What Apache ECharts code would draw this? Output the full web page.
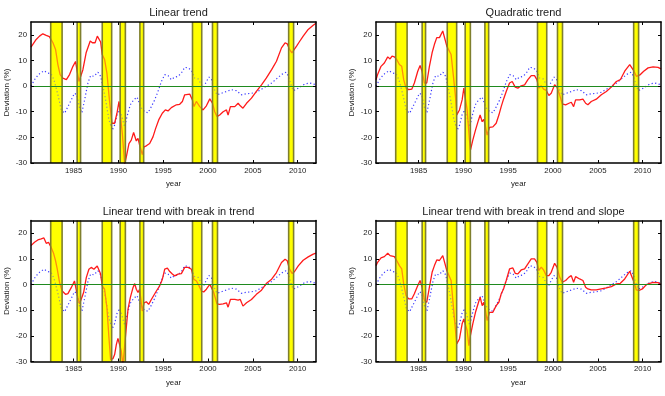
<!DOCTYPE html>
<html>
<head>
<meta charset="utf-8">
<script src="https://cdn.jsdelivr.net/npm/echarts@6/dist/echarts.min.js"></script>
<style>
  html, body { margin: 0; padding: 0; background: #fff; }
  #main { width: 665px; height: 396px; }
</style>
</head>
<body>
<div id="main"></div>
<script>
// panel titles
const panelTitles = ['Linear trend', 'Quadratic trend', 'Linear trend with break in trend', 'Linear trend with break in trend and slope'];
const yearTicks = [1985, 1990, 1995, 2000, 2005, 2010];
const deviationTicks = [-30, -20, -10, 0, 10, 20];

// recession periods [start, end]
const recessions = [
  [1982.45, 1983.72], [1985.4, 1985.78], [1988.2, 1989.25], [1990.2, 1990.78],
  [1992.4, 1992.82], [1998.27, 1999.3], [2000.5, 2001.06], [2009.0, 2009.55]
];

// blue dotted reference series (same in every panel)
const reference = [
  [1980.25,0],[1980.75,3.1],[1981.2,4.8],[1981.7,6],[1982.13,5.1],[1982.5,4.8],[1982.8,2.5],[1983.06,-0.8],
  [1983.3,-4.1],[1983.62,-9.3],[1984,-10.6],[1984.37,-8],[1984.74,-5.4],[1985.1,-2.8],[1985.37,-3.4],[1985.67,-8.6],
  [1985.93,-10.4],[1986.23,-5.4],[1986.6,1.2],[1986.9,4.1],[1987.27,3.8],[1987.72,5.4],[1988.02,3.8],[1988.28,-0.1],
  [1988.58,-5.4],[1988.95,-13.2],[1989.32,-17.2],[1989.58,-15.2],[1989.84,-11.3],[1990.14,-9.3],[1990.44,-12.6],
  [1990.7,-15.9],[1990.96,-11.9],[1991.33,-7.3],[1991.7,-5.4],[1992.08,-4.3],[1992.3,-4.1],[1992.56,-8.6],[1992.93,-10],
  [1993.3,-10.4],[1993.68,-8],[1994.05,-5.4],[1994.42,-2.1],[1994.8,1.8],[1995.17,4.5],[1995.54,4.1],[1995.91,2.5],
  [1996.28,3.5],[1996.66,3.8],[1997.03,5.1],[1997.4,7.3],[1997.78,7.1],[1998.15,6.2],[1998.52,3.1],[1998.9,2.8],
  [1999.26,0.5],[1999.52,-0.4],[1999.82,1.8],[2000.12,3.5],[2000.38,2.8],[2000.64,-0.8],[2001.0,-3.4],[2001.5,-2.8],
  [2002.06,-2.1],[2002.62,-1.4],[2003.17,-1.8],[2003.73,-3.4],[2004.3,-3],[2004.85,-2.8],[2005.4,-2.4],[2005.97,-1.2],
  [2006.5,-0.1],[2007.1,1.2],[2007.64,2.8],[2008.2,4.5],[2008.7,5.4],[2009.0,3.8],[2009.25,0.5],[2009.5,-1.7],
  [2009.8,-1.4],[2010.25,-0.4],[2010.8,0.8],[2011.37,1.2],[2012.05,0.5]
];

const linearTrend = [
  [1980.25,15.2],[1980.83,18.2],[1981.2,19.5],[1981.57,20.4],[1981.7,21.1],[1981.95,19.8],[1982.1,20.3],[1982.3,19.3],
  [1982.7,16.9],[1982.99,14.3],[1983.25,8.4],[1983.5,4.5],[1983.8,3.1],[1984.2,2.5],[1984.55,4.5],[1984.93,7.7],
  [1985.22,9.6],[1985.4,5.8],[1985.6,1.8],[1985.78,2.1],[1986.04,6.4],[1986.4,13],[1986.86,17.6],[1987.1,16.9],
  [1987.4,16.9],[1987.65,19.5],[1987.83,18.9],[1988.02,17.2],[1988.2,12.3],[1988.46,10.4],[1988.72,5.1],[1989.0,-5.4],
  [1989.28,-14.5],[1989.58,-14.5],[1989.84,-10.6],[1990.07,-6],[1990.25,-6.7],[1990.44,-18.5],[1990.7,-30.5],
  [1990.88,-27.7],[1991.18,-22.4],[1991.44,-21.1],[1991.7,-18.1],[1992.0,-21.4],[1992.19,-20.4],[1992.37,-23],
  [1992.67,-26.7],[1992.86,-23.7],[1993.12,-23.3],[1993.49,-22.4],[1993.86,-19.8],[1994.16,-16.5],[1994.5,-13.2],
  [1994.9,-10.6],[1995.24,-9.3],[1995.54,-9.7],[1995.91,-8.4],[1996.1,-8.4],[1996.47,-7.3],[1996.84,-7.1],[1997.14,-6],
  [1997.4,-3.4],[1997.96,-3.1],[1998.26,-5.4],[1998.44,-8],[1998.7,-6],[1999.08,-8],[1999.45,-9.3],[1999.82,-7.7],
  [2000.2,-5],[2000.5,-6.7],[2000.75,-10],[2001.0,-11.9],[2001.3,-11.3],[2001.69,-10],[2002.06,-9.3],[2002.24,-11.3],
  [2002.5,-8],[2002.99,-8],[2003.36,-6.7],[2003.6,-7.7],[2003.9,-8.6],[2004.3,-6.7],[2004.85,-4.7],[2005.4,-2.1],
  [2005.97,0.5],[2006.5,3.1],[2007.1,6.4],[2007.64,9.7],[2008.2,14.9],[2008.6,16.9],[2008.84,16.5],[2009.1,14.3],
  [2009.36,13],[2009.58,13.4],[2009.88,15.6],[2010.18,17.2],[2010.62,19.5],[2011.18,22.1],[2011.74,23.7],[2012.05,24.5]
];

const quadraticTrend = [
  [1980.25,2.5],[1980.43,4.5],[1980.81,7.7],[1981.18,9],[1981.56,11.4],[1981.82,10.6],[1982.04,11.7],[1982.3,11.4],
  [1982.56,10.4],[1982.86,8.4],[1983.12,7.7],[1983.34,2.5],[1983.6,-0.8],[1983.9,-1.4],[1984.24,-1.2],[1984.53,1.2],
  [1984.91,5.8],[1985.17,8],[1985.39,5.8],[1985.65,1.2],[1985.91,1.2],[1986.21,7.7],[1986.51,13],[1986.77,16.3],
  [1987.03,18.9],[1987.33,18.9],[1987.51,18.5],[1987.7,21.5],[1987.92,21.8],[1988.15,15.6],[1988.37,14.9],
  [1988.63,12.3],[1988.89,3.8],[1989.12,-4.1],[1989.26,-11.3],[1989.56,-9.3],[1989.86,-5.4],[1990.05,-0.8],
  [1990.23,-0.8],[1990.42,-9.3],[1990.68,-21.1],[1990.79,-25],[1991.05,-21.1],[1991.35,-17.2],[1991.69,-13.2],
  [1991.87,-11.3],[1992.1,-13.9],[1992.28,-13],[1992.47,-15.9],[1992.65,-19.1],[1992.91,-16.1],[1993.29,-15.9],
  [1993.66,-14.5],[1993.96,-11.3],[1994.22,-8],[1994.48,-5.1],[1994.78,-2.1],[1995.15,1.2],[1995.45,1.8],
  [1995.78,-0.4],[1996.08,-0.8],[1996.45,0.1],[1996.83,0.5],[1997.2,2.5],[1997.57,4.1],[1997.94,4.1],[1998.2,2.5],
  [1998.43,-0.8],[1998.69,0.1],[1998.95,-1.2],[1999.25,-1.7],[1999.54,-3.7],[1999.8,-2.8],[2000.18,0.5],
  [2000.44,-0.4],[2000.74,-3.4],[2001.03,-6.9],[2001.41,-7.3],[2001.78,-6.7],[2002.04,-6.3],[2002.3,-8],
  [2002.52,-5.4],[2002.97,-5.4],[2003.34,-5.1],[2003.64,-6.7],[2003.89,-7.3],[2004.27,-6],[2004.83,-5.1],
  [2005.39,-3.4],[2005.95,-2.1],[2006.51,-0.4],[2007.07,1.8],[2007.51,2.5],[2008.0,5.8],[2008.56,8.4],[2008.74,8.4],
  [2009.04,5.8],[2009.3,3.8],[2009.49,3.5],[2009.75,4.5],[2010.12,5.8],[2010.61,7.1],[2011.17,7.5],[2011.72,7.3],
  [2012.05,6.7]
];

const breakTrend = [
  [1980.25,15.2],[1980.64,16.5],[1981.01,17.4],[1981.39,17.8],[1981.69,18.2],[1981.95,16.1],[1982.2,16.5],[1982.5,14.5],
  [1982.77,12.2],[1982.99,9.3],[1983.18,6],[1983.44,0.8],[1983.73,-2.5],[1984.1,-3.8],[1984.37,-3.5],[1984.74,-1.2],
  [1985.1,1.4],[1985.3,1.7],[1985.48,-5.1],[1985.67,-7.5],[1985.86,-7.1],[1986.12,-3.1],[1986.42,2.7],[1986.71,6],
  [1986.97,6.7],[1987.27,6],[1987.46,6],[1987.64,7.3],[1987.83,7.3],[1988.02,4.1],[1988.2,-0.5],[1988.46,-1.8],
  [1988.72,-9],[1988.95,-20.8],[1989.13,-29.3],[1989.39,-28.9],[1989.58,-27.3],[1989.77,-23.4],[1989.95,-21],
  [1990.14,-21.4],[1990.33,-26],[1990.5,-31.5],[1990.65,-31],[1990.88,-16.9],[1991.07,-9.7],[1991.33,-5.1],
  [1991.63,-1.2],[1991.82,0.4],[1992.0,-1.8],[1992.19,-3.1],[1992.37,-1.8],[1992.67,-10.3],[1992.86,-7.1],
  [1993.12,-6.7],[1993.38,-7.7],[1993.68,-5.8],[1993.86,-5.1],[1994.24,-2.5],[1994.61,-0.5],[1994.91,2.1],
  [1995.17,6],[1995.47,6.4],[1995.73,5.1],[1996.02,4.1],[1996.28,3.4],[1996.66,4.1],[1997.03,4.3],[1997.4,6.7],
  [1997.78,6.7],[1998.15,6],[1998.41,2.1],[1998.71,1.4],[1999.0,-0.5],[1999.26,-2.5],[1999.52,-2.9],[1999.82,-1.8],
  [2000.2,0.1],[2000.38,0.4],[2000.64,-3.1],[2001.0,-7.5],[2001.3,-7.7],[2001.69,-7.5],[2002.06,-7.1],[2002.24,-8.8],
  [2002.5,-5.8],[2002.99,-5.8],[2003.36,-6.1],[2003.6,-5.8],[2003.9,-8.4],[2004.3,-7.1],[2004.85,-5.8],[2005.4,-3.8],
  [2005.97,-2.2],[2006.5,0.4],[2007.1,2.1],[2007.64,4.7],[2008.2,8.6],[2008.6,9.9],[2008.84,9.3],[2009.1,6],
  [2009.4,4.3],[2009.66,5.1],[2010.07,7.3],[2010.62,9.5],[2011.18,10.8],[2011.74,11.9],[2012.05,12.3]
];

const breakTrendSlope = [
  [1980.25,7.4],[1980.43,8.7],[1980.81,10.4],[1981.18,10.9],[1981.56,12.2],[1981.82,11.3],[1982.04,11.7],[1982.3,10.9],
  [1982.56,9.4],[1982.86,7.4],[1983.12,6.1],[1983.34,0.3],[1983.6,-4.3],[1983.9,-5.6],[1984.24,-5.6],[1984.53,-3.6],
  [1984.91,-0.4],[1985.17,1.6],[1985.39,-1],[1985.65,-6.2],[1985.91,-6.9],[1986.21,-1],[1986.51,4.8],[1986.77,7.4],
  [1987.03,9.6],[1987.33,9.4],[1987.51,9.4],[1987.7,11.3],[1987.92,10.9],[1988.15,5.5],[1988.37,4.8],[1988.63,1.6],
  [1988.89,-8.8],[1989.12,-17.9],[1989.26,-23.1],[1989.56,-21.2],[1989.86,-15.3],[1990.05,-13.4],[1990.23,-13.8],
  [1990.42,-17.9],[1990.61,-23.8],[1990.75,-20.5],[1991.05,-15.3],[1991.35,-10.8],[1991.69,-6.9],[1991.87,-4.9],
  [1992.1,-8.2],[1992.28,-6.9],[1992.47,-10.1],[1992.65,-14],[1992.91,-10.8],[1993.29,-10.8],[1993.66,-8.2],
  [1993.96,-6.9],[1994.22,-3.6],[1994.48,-1.7],[1994.78,1.6],[1995.15,6.1],[1995.52,6.5],[1995.78,4.4],[1996.08,4.2],
  [1996.45,5.7],[1996.83,6.1],[1997.2,8.1],[1997.57,10],[1997.94,10],[1998.2,8.7],[1998.43,5.5],[1998.69,6.8],
  [1998.95,5.7],[1999.25,3.5],[1999.54,3.5],[1999.8,4.8],[2000.18,8.3],[2000.44,6.8],[2000.74,2.9],[2001.03,0.9],
  [2001.41,1.6],[2001.78,2.9],[2002.04,3.5],[2002.3,0.9],[2002.52,3.1],[2002.97,2.2],[2003.34,1.6],[2003.64,-1],
  [2003.89,-1.7],[2004.27,-2.1],[2004.83,-2.1],[2005.39,-1.7],[2005.95,-1.3],[2006.51,-0.8],[2007.07,0.3],
  [2007.51,0.5],[2008.0,2.2],[2008.56,5.2],[2008.74,4.8],[2009.04,0.9],[2009.3,-2.1],[2009.6,-2.3],[2009.97,-1.7],
  [2010.42,0],[2010.79,0.5],[2011.17,0.9],[2011.72,0.8],[2012.05,0]
];

const trendSeries = [linearTrend, quadraticTrend, breakTrend, breakTrendSlope];

const chartDom = document.getElementById('main');
const myChart = echarts.init(chartDom, null, { renderer: 'canvas' });

const FONT = 'Liberation Sans, Arial, Helvetica, sans-serif';
const panels = [
  { left: 31, top: 22 },
  { left: 376, top: 22 },
  { left: 31, top: 220.5 },
  { left: 376, top: 220.5 }
];
const PW = 285, PH = 141;
const X_MIN = 1980.25, X_MAX = 2012.05;

// recession bands: solid fill below the lines, translucent fill + edges above them
const bandRenderer = (overlay) => (params, api) => {
  const a = api.coord([api.value(0), 25]);
  const b = api.coord([api.value(1), -30]);
  const children = [{
    type: 'rect',
    shape: { x: a[0], y: a[1], width: b[0] - a[0], height: b[1] - a[1] },
    style: { fill: overlay ? 'rgba(255,255,0,0.5)' : '#ffff00' }
  }];
  if (overlay) {
    [a[0], b[0]].forEach((x) => {
      children.push({
        type: 'line',
        shape: { x1: x, y1: a[1], x2: x, y2: b[1] },
        style: { stroke: '#7f7f2e', lineWidth: 1.6 }
      });
    });
  }
  return { type: 'group', children };
};

const option = {
  backgroundColor: '#fff',
  animation: false,
  title: [],
  grid: [],
  xAxis: [],
  yAxis: [],
  series: []
};

panels.forEach((p, i) => {
  option.title.push({
    text: panelTitles[i],
    left: p.left + PW / 2,
    top: p.top - 19.5,
    textAlign: 'center',
    textStyle: { fontFamily: FONT, fontSize: 11, fontWeight: 'normal', color: '#1a1a1a' }
  });
  option.grid.push({ left: p.left, top: p.top, width: PW, height: PH, show: false });

  const tickStyle = { inside: true, length: 3, lineStyle: { color: '#000', width: 1 } };
  const lineStyle = { show: true, onZero: false, lineStyle: { color: '#000', width: 1.5 } };
  const plain = (v) => String(v);
  // bottom + top x axes
  option.xAxis.push({
    type: 'value', gridIndex: i, min: X_MIN, max: X_MAX, position: 'bottom', z: 10,
    axisLine: lineStyle, splitLine: { show: false },
    axisTick: Object.assign({ customValues: yearTicks }, tickStyle),
    axisLabel: { customValues: yearTicks, formatter: plain, fontFamily: FONT, fontSize: 7.8, color: '#222', margin: 3.5 },
    name: 'year', nameLocation: 'middle', nameGap: 17,
    nameTextStyle: { fontFamily: FONT, fontSize: 7.8, color: '#222' }
  });
  option.xAxis.push({
    type: 'value', gridIndex: i, min: X_MIN, max: X_MAX, position: 'top', z: 10,
    axisLine: lineStyle, splitLine: { show: false },
    axisTick: Object.assign({ customValues: yearTicks }, tickStyle),
    axisLabel: { show: false }
  });
  // left + right y axes
  option.yAxis.push({
    type: 'value', gridIndex: i, min: -30, max: 25, position: 'left', z: 10,
    axisLine: lineStyle, splitLine: { show: false },
    axisTick: Object.assign({ customValues: deviationTicks }, tickStyle),
    axisLabel: { customValues: deviationTicks, formatter: plain, fontFamily: FONT, fontSize: 7.8, color: '#222', margin: 4 },
    name: 'Deviation (%)', nameLocation: 'middle', nameGap: 20, nameRotate: 90,
    nameTextStyle: { fontFamily: FONT, fontSize: 8, color: '#222' }
  });
  option.yAxis.push({
    type: 'value', gridIndex: i, min: -30, max: 25, position: 'right', z: 10,
    axisLine: lineStyle, splitLine: { show: false },
    axisTick: Object.assign({ customValues: deviationTicks }, tickStyle),
    axisLabel: { show: false }
  });

  const xi = i * 2, yi = i * 2;
  option.series.push({
    type: 'custom', xAxisIndex: xi, yAxisIndex: yi, z: 1, silent: true,
    renderItem: bandRenderer(false), data: recessions
  });
  option.series.push({
    type: 'line', xAxisIndex: xi, yAxisIndex: yi, z: 2, symbol: 'none', silent: true,
    data: reference,
    lineStyle: { color: '#3a3aff', width: 1.2, type: [1.2, 2.4] }
  });
  option.series.push({
    type: 'line', xAxisIndex: xi, yAxisIndex: yi, z: 2, symbol: 'none', silent: true,
    data: trendSeries[i],
    lineStyle: { color: '#ff1a1a', width: 1.3 }
  });
  option.series.push({
    type: 'custom', xAxisIndex: xi, yAxisIndex: yi, z: 3, silent: true,
    renderItem: bandRenderer(true), data: recessions
  });
  // zero line
  option.series.push({
    type: 'line', xAxisIndex: xi, yAxisIndex: yi, z: 4, symbol: 'none', silent: true,
    data: [],
    markLine: {
      silent: true, symbol: 'none', label: { show: false },
      lineStyle: { color: '#1f8a1f', width: 1.2, type: 'solid' },
      data: [{ yAxis: 0 }]
    }
  });
});

myChart.setOption(option);

window.addEventListener('resize', () => myChart.resize());
</script>
</body>
</html>
